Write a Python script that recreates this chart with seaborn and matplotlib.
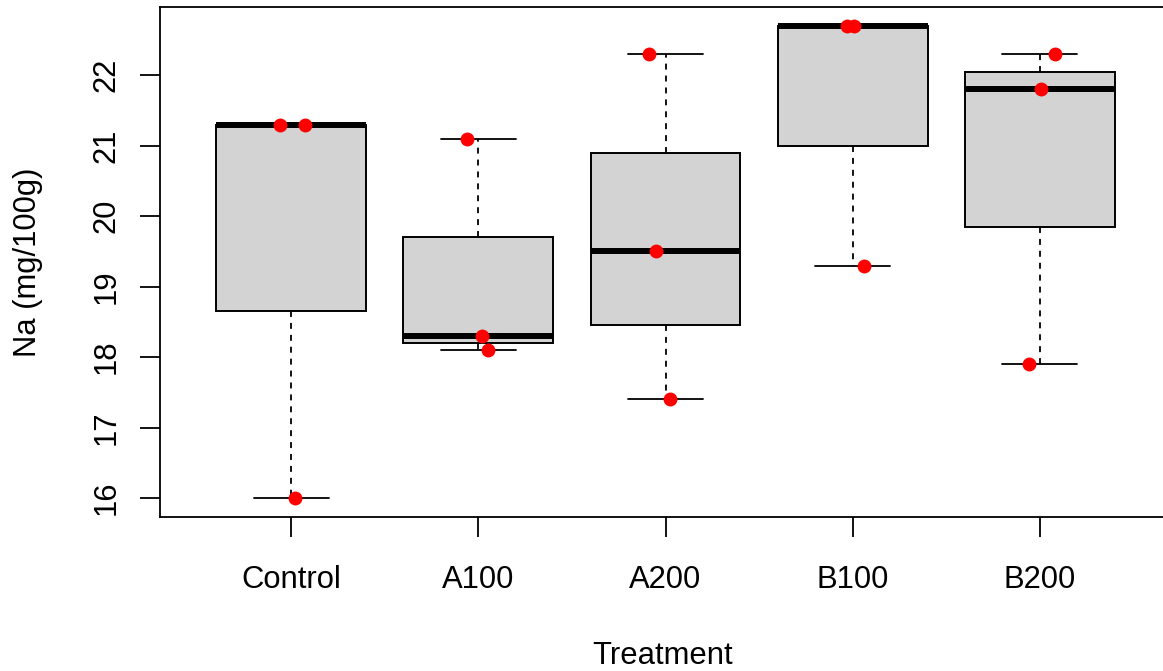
import matplotlib
matplotlib.use("Agg")
import matplotlib.pyplot as plt
import seaborn as sns
import pandas as pd

# categories and raw values
treatments = ["Control", "A100", "A200", "B100", "B200"]
group = ["Control"] * 3 + ["A100"] * 3 + ["A200"] * 3 + ["B100"] * 3 + ["B200"] * 3
na_values = [21.3, 21.3, 16.0,
             21.1, 18.3, 18.1,
             22.3, 19.5, 17.4,
             22.7, 22.7, 19.3,
             22.3, 21.8, 17.9]
# horizontal jitter of each red point (category units)
jitter = [-0.061, 0.074, 0.023,
          -0.060, 0.019, 0.050,
          -0.086, -0.051, 0.022,
          -0.030, 0.008, 0.059,
          0.083, 0.005, -0.060]
y_ticks = [16, 17, 18, 19, 20, 21, 22]

df = pd.DataFrame({"Treatment": group, "Na": na_values})
df["xpos"] = df["Treatment"].map({t: i for i, t in enumerate(treatments)}) + pd.Series(jitter)

sns.set_style("white")
plt.rcParams["font.family"] = ["Liberation Sans", "DejaVu Sans"]
plt.rcParams["text.color"] = "black"

W, H = 1163, 671
fig = plt.figure(figsize=(W / 100, H / 100), dpi=100)
# plot region runs a little past the right edge of the image, as in the original
ax = fig.add_axes([160 / W, (H - 517) / H, 1011 / W, 510 / H])

#box plot like R's default
sns.boxplot(data=df, x="Treatment", y="Na", order=treatments, ax=ax,
            width=0.8, color="lightgrey", saturation=1, linecolor="black",
            linewidth=1.4, whis=1.5, showfliers=False,
            medianprops=dict(linewidth=4.3, color="black", solid_capstyle="butt"),
            whiskerprops=dict(linestyle=(0, (3.3, 3.3)), linewidth=1.3),
            capprops=dict(linewidth=1.3))

#jittered points on top
ax.scatter(df["xpos"], df["Na"], s=100, color="red", linewidths=0, zorder=5)

ax.set_xlim(-0.7, 4.7)
ax.set_ylim(15.732, 22.968)
ax.set_yticks(y_ticks)
ax.set_yticklabels([str(v) for v in y_ticks])
ax.set_xlabel("")
ax.set_ylabel("")

for s in ax.spines.values():
    s.set_visible(True)
    s.set_color("black")
    s.set_linewidth(1.3)

ax.tick_params(axis="both", direction="out", length=14.4, width=1.3,
               color="black", labelsize=22.3, labelcolor="black")
ax.tick_params(axis="x", pad=20, bottom=True)
ax.tick_params(axis="y", pad=13, left=True, labelrotation=90)
for lbl in ax.get_yticklabels():
    lbl.set_verticalalignment("center")

fig.text(663 / W, (H - 664.3) / H, "Treatment", fontsize=22.3,
         ha="center", va="baseline", color="black")
fig.text(36 / W, (H - 262) / H, "Na (mg/100g)", fontsize=22.3, rotation=90,
         rotation_mode="anchor", ha="center", va="baseline", color="black")

fig.savefig("out.png", dpi=100)
